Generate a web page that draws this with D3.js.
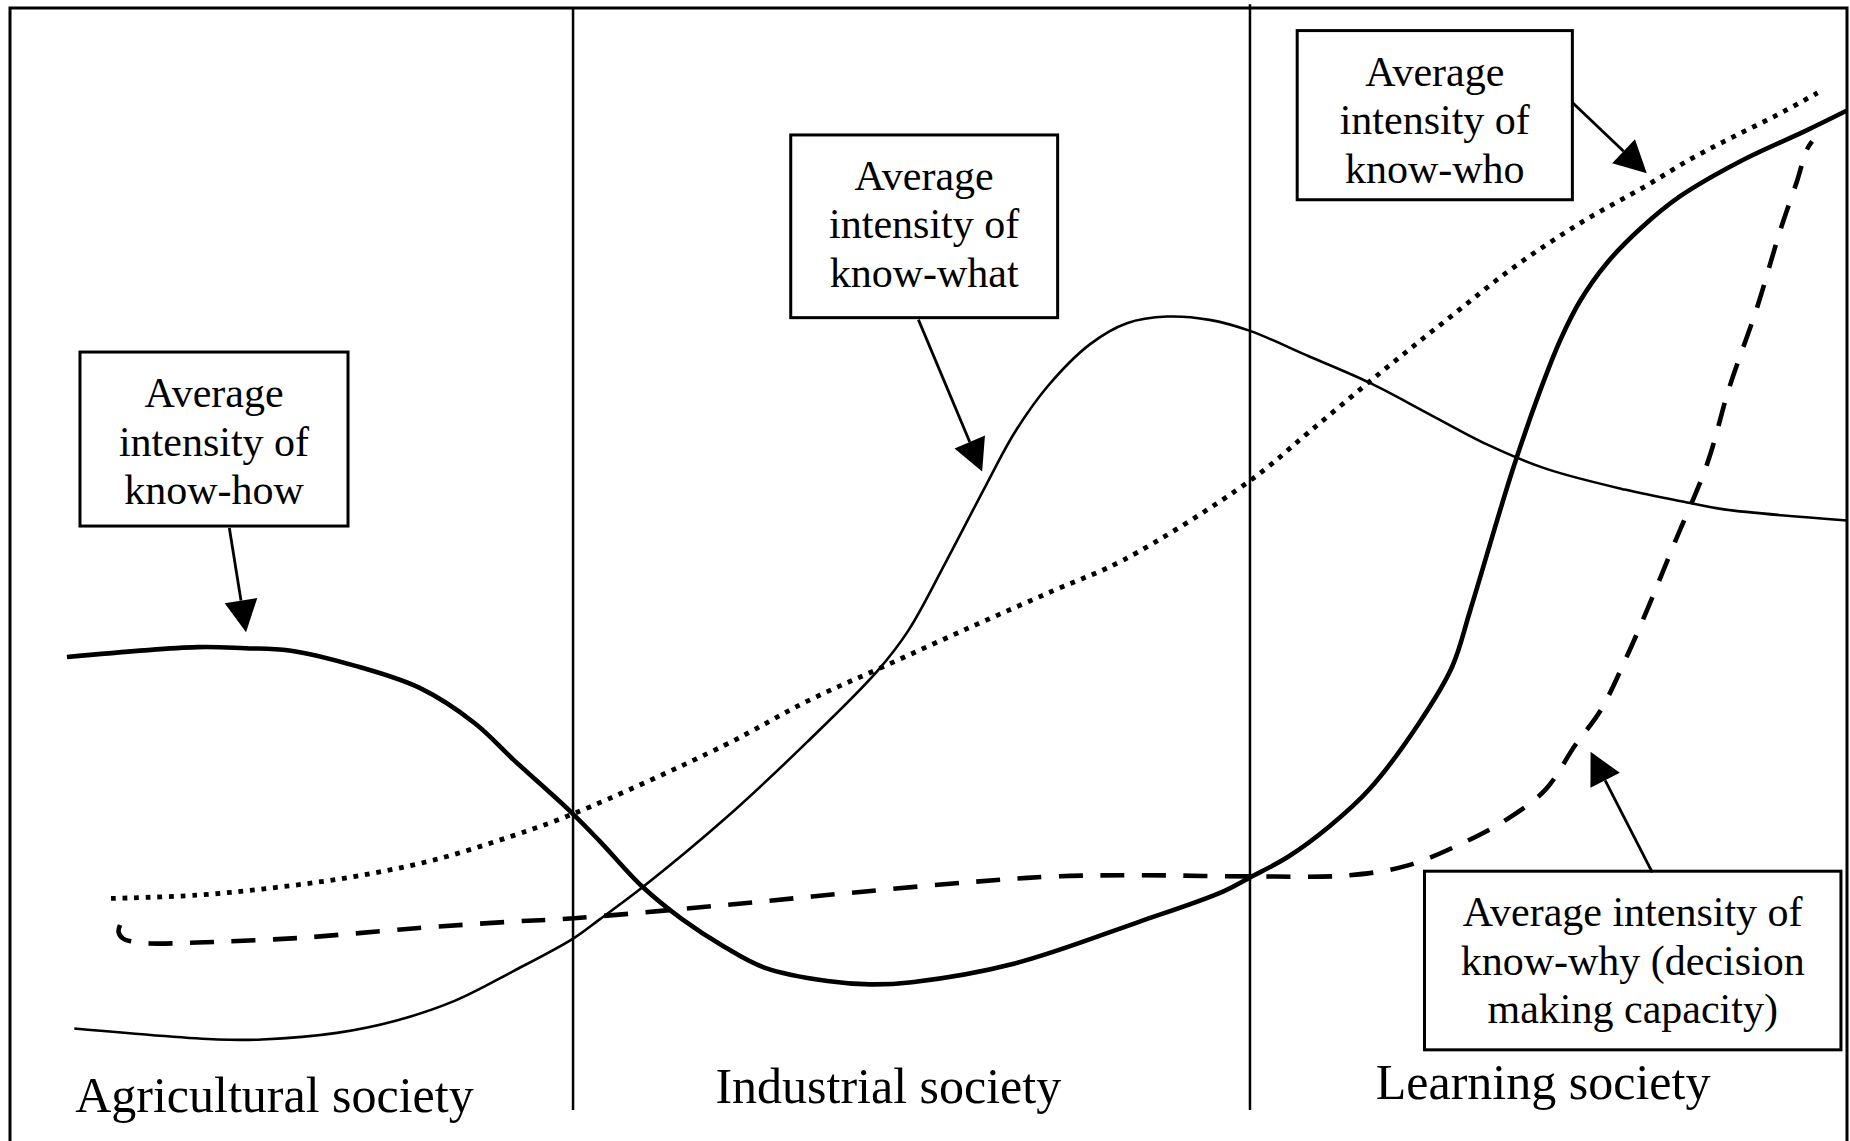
<html>
<head>
<meta charset="utf-8">
<style>
    body { margin: 0; background: #fff; }
    text { font-family: "Liberation Serif", "Times New Roman", serif; fill: #000; }
</style>
</head>
<body>
    <svg id="chart" width="1850" height="1141"></svg>
    <script src="https://d3js.org/d3.v7.min.js" charset="utf-8"></script>
    <script>
        // eras along the time axis (time and intensity both run 0..100)
        let eras = ["Agricultural society", "Industrial society", "Learning society"]
        let eraBreaks = [30.65, 67.5]

        // average intensity curves, [time, intensity]
        let knowHow = [[3.1, 41.1], [10.2, 42.0], [12.8, 41.9], [15.2, 41.7], [18.8, 40.3], [22.3, 38.3],
            [25.3, 35.1], [27.4, 31.8], [30.5, 27.1], [32.1, 24.4], [34.4, 20.3], [36.6, 17.3], [38.9, 14.8],
            [41.1, 12.9], [44.5, 11.7], [46.8, 11.4], [49.1, 11.6], [54.7, 13.3], [61.5, 17.1], [66.0, 19.8],
            [67.5, 21.1], [69.6, 23.0], [71.8, 25.7], [74.0, 29.1], [76.7, 35.1], [78.5, 40.2], [79.5, 45.4],
            [81.8, 58.1], [83.3, 65.3], [84.4, 69.9], [85.5, 73.5], [86.9, 76.8], [88.7, 79.9], [90.9, 82.9],
            [94.2, 86.1], [97.8, 88.9], [100, 90.7]]

        let knowWhat = [[3.5, 7.4], [11.3, 6.4], [13.7, 6.4], [17.8, 7.0], [21.0, 8.1], [24.2, 9.9], [27.4, 12.6],
            [30.7, 15.6], [32.1, 17.3], [34.5, 20.3], [38.9, 26.4], [43.4, 33.4], [47.2, 39.8], [48.9, 43.5],
            [51.0, 49.9], [53.1, 56.6], [54.7, 61.5], [56.5, 65.7], [58.8, 69.5], [60.8, 71.4], [63.0, 72.0],
            [65.3, 71.7], [67.5, 70.7], [70.7, 68.4], [74.0, 66.0], [77.2, 63.2], [80.4, 60.4], [83.6, 58.2],
            [87.9, 56.3], [91.4, 55.1], [93.3, 54.5], [100, 53.5]]

        let knowWho = [[5.5, 19.2], [10.2, 19.5], [14.5, 20.2], [18.8, 21.2], [23.1, 22.7], [27.4, 24.9],
            [30.7, 26.9], [38.9, 33.1], [43.4, 37.1], [47.5, 40.2], [52.4, 43.9], [56.9, 47.2], [60.6, 49.9],
            [67.5, 57.1], [70.7, 61.5], [74.6, 66.9], [78.2, 71.7], [81.8, 76.4], [85.5, 80.5], [89.1, 83.9],
            [91.6, 86.4], [93.8, 88.3], [96.2, 90.3], [98.4, 92.3]]

        let knowWhy = [[5.99, 16.79], [5.91, 16.15], [6.15, 15.56], [6.64, 15.29], [7.62, 15.11], [10.2, 15.2],
            [15.6, 15.6], [22.1, 16.5], [27.4, 17.1], [30.7, 17.4], [38.9, 18.6], [45.7, 19.7], [52.4, 20.7],
            [56.9, 21.2], [61.5, 21.3], [67.5, 21.2], [72.9, 21.3], [76.1, 22.2], [79.3, 24.4], [81.5, 26.4],
            [83.6, 29.1], [85.2, 33.1], [86.6, 36.3], [88.0, 41.1], [89.2, 45.7], [90.6, 51.4], [92.4, 58.7],
            [93.6, 65.6], [95.1, 72.8], [96.4, 80.0], [97.3, 84.4], [97.8, 87.1], [98.1, 87.9]]

        // box labels
        let howLabel = ["Average", "intensity of", "know-how"]
        let whatLabel = ["Average", "intensity of", "know-what"]
        let whoLabel = ["Average", "intensity of", "know-who"]
        let whyLabel = ["Average intensity of", "know-why (decision", "making capacity)"]

        let svg = d3.select("#chart")

        // Map time / intensity to image space
        let x = d3.scaleLinear().domain([0, 100]).range([10, 1847])
        let y = d3.scaleLinear().domain([0, 100]).range([1110, 8])

        // frame (open at the bottom) and era dividers
        svg.append("path")
            .attr("d", `M${x(0)},1145 V${y(100)} H${x(100)} V1145`)
            .style("fill", "none").style("stroke", "#000").style("stroke-width", 3)

        svg.selectAll(".divider").data(eraBreaks).enter()
            .append("line")
            .attr("x1", d => x(d)).attr("x2", d => x(d))
            .attr("y1", (d, i) => i == 0 ? y(100) : y(100.35))
            .attr("y2", y(0))
            .style("stroke", "#000").style("stroke-width", 2.5)

        // the four curves
        let line = d3.line()
            .x(d => x(d[0]))
            .y(d => y(d[1]))
            .curve(d3.curveCatmullRom.alpha(0.5))

        let series = [
            { values: knowWhat, width: 2.6, dash: null },
            { values: knowWho, width: 4.8, dash: "4.8 6.8" },
            { values: knowWhy, width: 4.6, dash: "24 17.5" },
            { values: knowHow, width: 4.6, dash: null }
        ]

        svg.selectAll(".curve").data(series).enter()
            .append("path")
            .attr("class", "curve")
            .attr("d", d => line(d.values))
            .style("fill", "none")
            .style("stroke", "#000")
            .style("stroke-width", d => d.width)
            .style("stroke-dasharray", d => d.dash)
            .style("stroke-linecap", "butt")

        // era names
        let eraPos = [[3.55, -0.2], [38.4, 0.6], [74.35, 1.0]]
        svg.selectAll(".era").data(eras).enter()
            .append("text")
            .attr("x", (d, i) => x(eraPos[i][0]))
            .attr("y", (d, i) => y(eraPos[i][1]))
            .style("font-size", "50px")
            .text(d => d)

        // labelled boxes with arrows pointing at the curves
        // box: [left, right, top, bottom], arrow: [fromX, fromY, toX, toY]
        let notes = [
            { lines: howLabel, box: [3.81, 18.4, 68.78, 52.99], arrow: [11.94, 52.81, 12.85, 43.36] },
            { lines: whatLabel, box: [42.5, 57.03, 88.48, 71.9], arrow: [49.45, 71.72, 52.92, 57.94] },
            { lines: whoLabel, box: [70.07, 85.05, 97.95, 82.6], arrow: [85.05, 91.42, 89.1, 85.0] },
            { lines: whyLabel, box: [77.0, 99.67, 21.67, 5.46], arrow: [89.4, 21.57, 86.04, 32.5] }
        ]

        let note = svg.selectAll(".note").data(notes).enter().append("g")

        note.append("rect")
            .attr("x", d => x(d.box[0]))
            .attr("y", d => y(d.box[2]))
            .attr("width", d => x(d.box[1]) - x(d.box[0]))
            .attr("height", d => y(d.box[3]) - y(d.box[2]))
            .style("fill", "#fff").style("stroke", "#000").style("stroke-width", 3)

        note.each(function (d) {
            let g = d3.select(this)
            let cx = (x(d.box[0]) + x(d.box[1])) / 2
            d.lines.forEach((t, i) => {
                g.append("text")
                    .attr("x", cx)
                    .attr("y", y(d.box[2]) + 55 + i * 48.5)
                    .attr("text-anchor", "middle")
                    .style("font-size", "42px")
                    .text(t)
            })

            // arrow shaft and filled head
            let x0 = x(d.arrow[0]), y0 = y(d.arrow[1]), x1 = x(d.arrow[2]), y1 = y(d.arrow[3])
            let len = Math.hypot(x1 - x0, y1 - y0)
            let ux = (x1 - x0) / len, uy = (y1 - y0) / len
            let headL = 32, headW = 33
            let bx = x1 - ux * headL, by = y1 - uy * headL
            g.append("line")
                .attr("x1", x0).attr("y1", y0).attr("x2", bx).attr("y2", by)
                .style("stroke", "#000").style("stroke-width", 2.8)
            g.append("path")
                .attr("d", `M${x1},${y1} L${bx - uy * headW / 2},${by + ux * headW / 2} L${bx + uy * headW / 2},${by - ux * headW / 2} Z`)
                .style("fill", "#000")
        })
    </script>
</body>
</html>
